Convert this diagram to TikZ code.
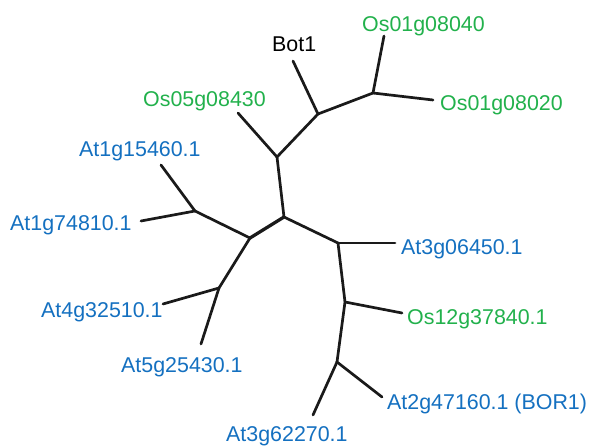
\documentclass[tikz,border=0pt]{standalone}
\usepackage{fontspec}
\setmainfont{Liberation Sans}
\definecolor{atblue}{HTML}{1470C0}
\definecolor{osgreen}{HTML}{22B14C}
\definecolor{branch}{HTML}{1A1A1A}
\begin{document}
\begin{tikzpicture}[x=1pt,y=-1pt,
  edge/.style={draw=branch,line width=2.7pt,line cap=round,line join=round},
  leaf/.style={anchor=base west,inner sep=0pt,font=\fontsize{21.4}{24}\selectfont},
  atlabel/.style={leaf,text=atblue},
  oslabel/.style={leaf,text=osgreen},
  botlabel/.style={leaf,text=black}]
\useasboundingbox (0,0) rectangle (590,446);
% internal branch points
\coordinate (nA) at (373,93);
\coordinate (nB) at (318,114);
\coordinate (nC) at (277,157);
\coordinate (nD) at (284,217);
\coordinate (nE) at (250,238);
\coordinate (nF) at (195,211);
\coordinate (nG) at (219,288);
\coordinate (nH) at (338,243);
\coordinate (nI) at (345,302);
\coordinate (nJ) at (337,362);
% tips of the terminal branches
\coordinate (t1) at (384,36);
\coordinate (t2) at (433,100);
\coordinate (t3) at (293,61);
\coordinate (t4) at (238,113);
\coordinate (t5) at (161,165);
\coordinate (t6) at (141,221);
\coordinate (t7) at (163,304);
\coordinate (t8) at (201,344);
\coordinate (t9) at (395,243);
\coordinate (t10) at (402,313);
\coordinate (t11) at (382,397);
\coordinate (t12) at (313,415);
% labels
\node[oslabel]  (l1)  at (362,32)  {Os01g08040};
\node[oslabel]  (l2)  at (440,111) {Os01g08020};
\node[botlabel] (l3)  at (272,52)  {Bot1};
\node[oslabel]  (l4)  at (143,107) {Os05g08430};
\node[atlabel]  (l5)  at (79,157)  {At1g15460.1};
\node[atlabel]  (l6)  at (10,231)  {At1g74810.1};
\node[atlabel]  (l7)  at (41,318)  {At4g32510.1};
\node[atlabel]  (l8)  at (121,373) {At5g25430.1};
\node[atlabel]  (l9)  at (401,255) {At3g06450.1};
\node[oslabel]  (l10) at (407,325) {Os12g37840.1};
\node[atlabel]  (l11) at (387,410) {At2g47160.1 (BOR1)};
\node[atlabel]  (l12) at (226,442) {At3g62270.1};
% tree
\draw[edge] (nA) -- (t1);
\draw[edge] (nA) -- (t2);
\draw[edge] (nA) -- (nB);
\draw[edge] (nB) -- (t3);
\draw[edge] (nB) -- (nC);
\draw[edge] (nC) -- (t4);
\draw[edge] (nC) -- (nD);
\draw[edge,line width=3.3pt] (nD) -- (nE);
\draw[edge] (nE) -- (nF);
\draw[edge] (nF) -- (t5);
\draw[edge] (nF) -- (t6);
\draw[edge] (nE) -- (nG);
\draw[edge] (nG) -- (t7);
\draw[edge] (nG) -- (t8);
\draw[edge] (nD) -- (nH);
\draw[edge] (nH) -- (t9);
\draw[edge] (nH) -- (nI);
\draw[edge] (nI) -- (t10);
\draw[edge] (nI) -- (nJ);
\draw[edge] (nJ) -- (t11);
\draw[edge] (nJ) -- (t12);
\end{tikzpicture}
\end{document}
